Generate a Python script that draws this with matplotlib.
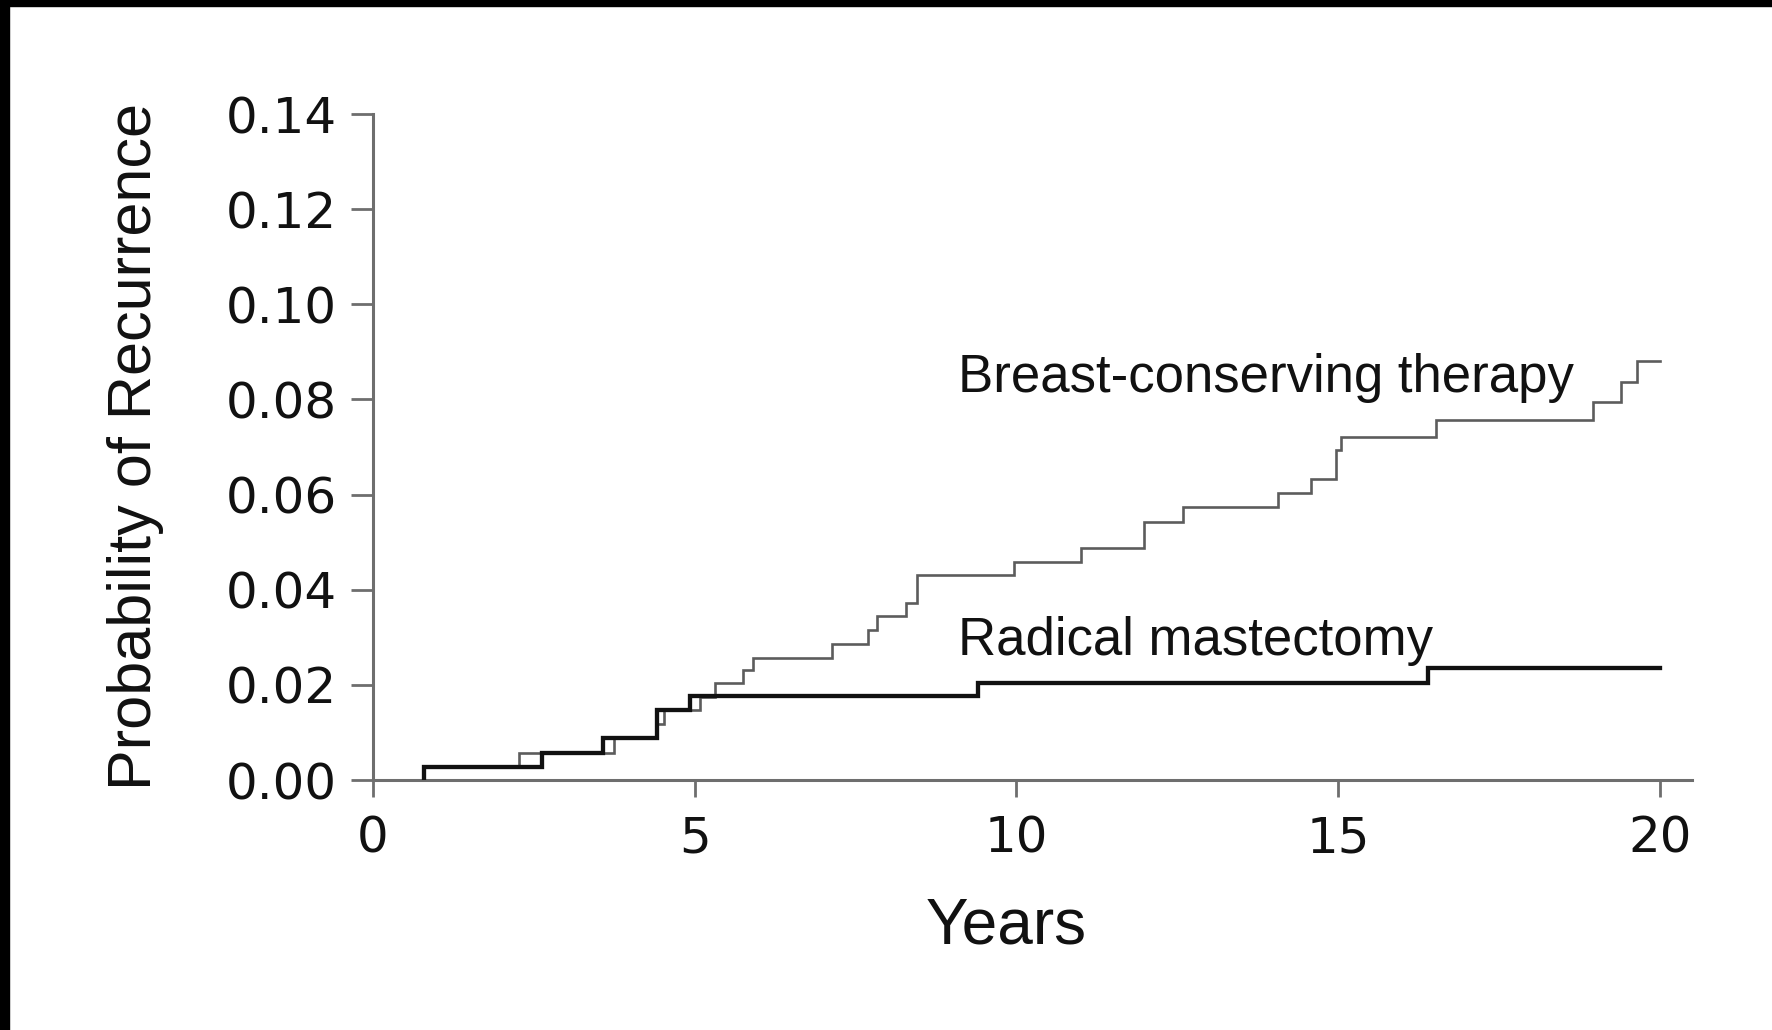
import numpy as np
import matplotlib
matplotlib.use("Agg")
import matplotlib.pyplot as plt
from matplotlib.patches import Rectangle

plt.rcParams["font.family"] = ["Liberation Sans", "DejaVu Sans"]

# cumulative recurrence (step curves), years of each event and level after it
bct_years = [0.79, 2.27, 3.74, 4.41, 4.53, 5.08, 5.31, 5.75, 5.91, 7.13, 7.69,
             7.83, 8.28, 8.45, 9.96, 11.00, 11.98, 12.59, 14.06, 14.58, 14.97,
             15.05, 16.52, 18.96, 19.40, 19.64]
bct_prob = [0.0028, 0.0057, 0.0088, 0.0118, 0.0147, 0.0175, 0.0203, 0.0231,
            0.0256, 0.0286, 0.0315, 0.0345, 0.0373, 0.0431, 0.0459, 0.0487,
            0.0543, 0.0574, 0.0604, 0.0632, 0.0694, 0.0722, 0.0757, 0.0795,
            0.0836, 0.0880]
bct_end = 20.0

rm_years = [0.79, 2.63, 3.58, 4.41, 4.93, 9.40, 16.39]
rm_prob = [0.0028, 0.0057, 0.0088, 0.0147, 0.0177, 0.0203, 0.0235]
rm_end = 20.0

x_ticks = [0, 5, 10, 15, 20]
y_ticks = [0.00, 0.02, 0.04, 0.06, 0.08, 0.10, 0.12, 0.14]


def step_xy(years, prob, end):
    x = np.r_[years[0], years, end]
    y = np.r_[0.0, prob, prob[-1]]
    return x, y


W, H = 1772, 1030
fig = plt.figure(figsize=(W / 100, H / 100), dpi=100)
ax = fig.add_axes([373 / W, 1 - 780 / H, (1692 - 373) / W, (780 - 114) / H])

axis_grey = "#6e6e6e"

x, y = step_xy(bct_years, bct_prob, bct_end)
ax.step(x, y, where="post", color="#5c5c5c", lw=1.9, solid_joinstyle="miter")
x, y = step_xy(rm_years, rm_prob, rm_end)
ax.step(x, y, where="post", color="#111111", lw=3.1, solid_joinstyle="miter")

ax.set_xlim(0, 20.5)
ax.set_ylim(0, 0.14)
ax.spines["top"].set_visible(False)
ax.spines["right"].set_visible(False)
for s in ("left", "bottom"):
    ax.spines[s].set_color(axis_grey)
    ax.spines[s].set_linewidth(2.2)
ax.spines["left"].set_zorder(0)
ax.spines["bottom"].set_zorder(0)

ax.set_xticks(x_ticks)
ax.set_yticks(y_ticks)
ax.set_yticklabels([f"{v:.2f}" for v in y_ticks])
ax.tick_params(axis="y", length=16, width=2, color=axis_grey, pad=10,
               labelsize=36, labelcolor="#111111")
ax.tick_params(axis="x", length=12, width=2, color=axis_grey, pad=13,
               labelsize=36, labelcolor="#111111")
for lab in ax.get_xticklabels() + ax.get_yticklabels():
    lab.set_family("DejaVu Sans")

ax.text(9.09, 0.0816, "Breast-conserving therapy", fontsize=38,
        color="#111111", va="baseline", ha="left")
ax.text(9.09, 0.0262, "Radical mastectomy", fontsize=38,
        color="#111111", va="baseline", ha="left")

fig.text(136 / W, 1 - 446 / H, "Probability of Recurrence", rotation=90,
         fontsize=44, color="#111111", ha="center", va="center")
fig.text(1006 / W, 1 - 944 / H, "Years", fontsize=46, color="#111111",
         ha="center", va="baseline")

# black frame strips along the top and left edge
fig.patches.append(Rectangle((0, 1 - 6 / H), 1, 6 / H, transform=fig.transFigure,
                             color="black", zorder=10))
fig.patches.append(Rectangle((0, 0), 9 / W, 1, transform=fig.transFigure,
                             color="black", zorder=10))

fig.savefig("out.png", dpi=100)
